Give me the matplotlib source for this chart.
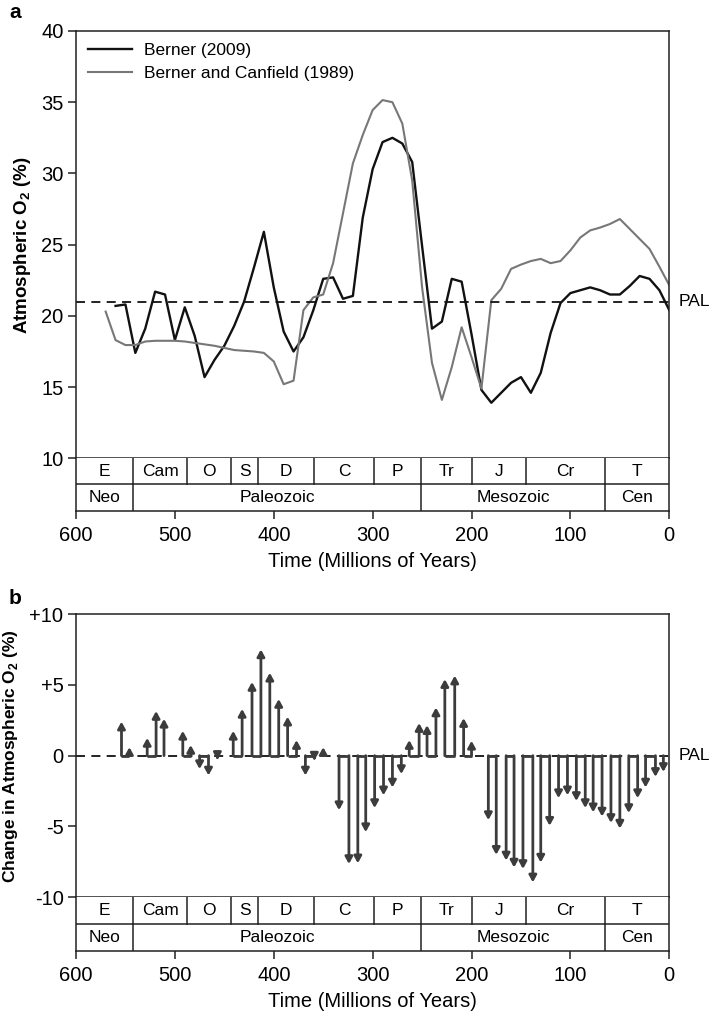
import numpy as np
import matplotlib.pyplot as plt

plt.rcParams['font.family'] = ['Liberation Sans', 'DejaVu Sans']
plt.rcParams['mathtext.fontset'] = 'custom'
plt.rcParams['mathtext.rm'] = 'Liberation Sans'
plt.rcParams['mathtext.bf'] = 'Liberation Sans:bold'

# -----------------------------------------------------------------
# DADOS
# -----------------------------------------------------------------
# Berner (2009)
t_b09 = [560, 550, 540, 530, 520, 510, 500, 490, 480, 470, 460, 450, 440, 430,
         420, 410, 400, 390, 380, 370, 360, 350, 340, 330, 320, 310, 300, 290,
         280, 270, 260, 250, 240, 230, 220, 210, 200, 190, 180, 170, 160, 150,
         140, 130, 120, 110, 100, 90, 80, 70, 60, 50, 40, 30, 20, 10, 0]
o2_b09 = [20.7, 20.8, 17.4, 19.1, 21.7, 21.5, 18.3, 20.6, 18.6, 15.7, 16.9, 17.9,
          19.3, 21.0, 23.4, 25.9, 22.0, 18.9, 17.5, 18.5, 20.4, 22.6, 22.7, 21.2,
          21.4, 26.9, 30.3, 32.2, 32.5, 32.1, 30.8, 24.9, 19.1, 19.6, 22.6, 22.4,
          18.7, 14.8, 13.9, 14.6, 15.3, 15.7, 14.6, 16.0, 18.8, 20.9, 21.6, 21.8,
          22.0, 21.8, 21.5, 21.5, 22.1, 22.8, 22.6, 21.8, 20.4]

# Berner and Canfield (1989)
t_bc89 = [570, 560, 550, 540, 530, 520, 510, 500, 490, 480, 470, 460, 450, 440,
          430, 420, 410, 400, 390, 380, 370, 360, 350, 340, 330, 320, 310, 300,
          290, 280, 270, 260, 250, 240, 230, 220, 210, 200, 190, 180, 170, 160,
          150, 140, 130, 120, 110, 100, 90, 80, 70, 60, 50, 40, 30, 20, 10, 0]
o2_bc89 = [20.3, 18.3, 17.95, 17.95, 18.2, 18.25, 18.25, 18.25, 18.2, 18.1, 18.0,
           17.9, 17.75, 17.6, 17.55, 17.5, 17.4, 16.8, 15.2, 15.45, 20.4, 21.3,
           21.5, 23.7, 27.2, 30.7, 32.7, 34.45, 35.15, 35.0, 33.5, 29.5, 22.0,
           16.7, 14.1, 16.4, 19.2, 17.1, 14.9, 21.1, 21.9, 23.3, 23.6, 23.85,
           24.0, 23.7, 23.85, 24.6, 25.5, 26.0, 26.2, 26.45, 26.8, 26.1, 25.4,
           24.7, 23.45, 22.15]

# variação em relação ao PAL (painel b)
t_diff = [554, 546, 528, 519, 511, 492, 484, 475, 466, 457, 441, 432, 422, 413,
          404, 395, 386, 377, 368, 359, 350, 334, 324, 315, 307, 298, 289, 280,
          271, 263, 253, 245, 236, 227, 217, 208, 200, 183, 175, 165, 157, 148,
          138, 130, 121, 112, 103, 94, 85, 77, 68, 59, 50, 41, 32, 24, 14, 6]
d_o2 = [2.4, 0.6, 1.25, 3.15, 2.6, 1.75, 0.75, -0.95, -1.4, -0.3, 1.75, 3.3, 5.2,
        7.5, 5.85, 4.0, 2.75, 1.1, -1.4, -0.35, 0.6, -3.85, -7.65, -7.6, -5.4,
        -3.7, -2.8, -2.25, -1.3, 1.1, 2.3, 2.15, 3.4, 5.4, 5.65, 2.65, 1.05,
        -4.55, -7.0, -7.4, -7.9, -8.0, -8.95, -7.55, -4.95, -3.0, -2.8, -3.2,
        -3.7, -4.0, -4.3, -4.75, -5.15, -4.05, -3.0, -2.25, -1.5, -1.15]

PAL = 21

period_names = ['E', 'Cam', 'O', 'S', 'D', 'C', 'P', 'Tr', 'J', 'Cr', 'T']
period_edges = [600, 542, 488, 443, 416, 359, 299, 251, 200, 145, 65, 0]
era_names = ['Neo', 'Paleozoic', 'Mesozoic', 'Cen']
era_edges = [600, 542, 251, 65, 0]

cor_eixo = '#222222'
W, H = 710, 1021


def escala_tempo(ax):
    # tabela de períodos / eras abaixo do gráfico
    ax.set_xlim(600, 0)
    ax.set_ylim(0, 2)
    ax.axhline(1, color=cor_eixo, lw=1.1)
    for x in period_edges[1:-1]:
        ax.plot([x, x], [1, 2], color=cor_eixo, lw=1.1)
    for x in era_edges[1:-1]:
        ax.plot([x, x], [0, 1], color=cor_eixo, lw=1.1)
    for i, nome in enumerate(period_names):
        ax.text((period_edges[i] + period_edges[i + 1]) / 2, 1.5, nome,
                ha='center', va='center', fontsize=12.5)
    for i, nome in enumerate(era_names):
        ax.text((era_edges[i] + era_edges[i + 1]) / 2, 0.5, nome,
                ha='center', va='center', fontsize=12.5)
    ax.set_yticks([])
    ax.set_xticks([600, 500, 400, 300, 200, 100, 0])
    ax.tick_params(axis='x', direction='out', length=6, width=1.1,
                   color=cor_eixo, labelsize=14.5, pad=5)
    for s in ax.spines.values():
        s.set_color(cor_eixo)
        s.set_linewidth(1.1)
    ax.spines['top'].set_visible(False)
    ax.set_xlabel('Time (Millions of Years)', fontsize=14.5, labelpad=5)


def estilo_dados(ax):
    ax.set_xlim(600, 0)
    ax.set_xticks([])
    for s in ax.spines.values():
        s.set_color(cor_eixo)
        s.set_linewidth(1.1)
    ax.tick_params(axis='y', direction='out', length=6, width=1.1,
                   color=cor_eixo, labelsize=14.5, pad=3)


fig = plt.figure(figsize=(W / 100, H / 100), dpi=100)

x0, x1 = 76 / W, 669.3 / W


def caixa(ytop, ybot):
    return [x0, 1 - ybot / H, x1 - x0, (ybot - ytop) / H]


# -----------------------------------------------------------------
# PAINEL a
# -----------------------------------------------------------------
ax1 = fig.add_axes(caixa(31, 458.3))
ts1 = fig.add_axes(caixa(458.3, 510.7))
estilo_dados(ax1)
escala_tempo(ts1)

ax1.plot(t_b09, o2_b09, color='#111111', lw=1.7, label='Berner (2009)')
ax1.plot(t_bc89, o2_bc89, color='#777777', lw=1.5,
         label='Berner and Canfield (1989)')
ax1.axhline(PAL, color='#111111', lw=1.3, ls=(0, (5, 3.5)))
ax1.set_ylim(10, 40)
ax1.set_yticks([10, 15, 20, 25, 30, 35, 40])
ax1.text(1.015, PAL, 'PAL', transform=ax1.get_yaxis_transform(),
         va='center', ha='left', fontsize=12.5)
ax1.set_ylabel(r'Atmospheric O$_\mathbf{2}$ (%)', fontsize=13.5,
               fontweight='bold')
ax1.yaxis.set_label_coords(-0.072, 0.5)
ax1.legend(loc='upper left', frameon=False, fontsize=12.5, handlelength=2.5,
           handletextpad=0.7, labelspacing=0.45, borderaxespad=0.3,
           bbox_to_anchor=(0.0, 1.0))

# -----------------------------------------------------------------
# PAINEL b
# -----------------------------------------------------------------
ax2 = fig.add_axes(caixa(614, 897.3))
ts2 = fig.add_axes(caixa(897.3, 950.7))
estilo_dados(ax2)
escala_tempo(ts2)

ax2.axhline(0, color='#111111', lw=1.3, ls=(0, (5, 3.5)), zorder=1)
cor_seta = '#3c3c3c'
for t, d in zip(t_diff, d_o2):
    ax2.annotate('', xy=(t, d), xytext=(t, 0),
                 arrowprops=dict(arrowstyle='-|>,head_length=0.4,head_width=0.22',
                                 lw=2.0, color=cor_seta, shrinkA=0, shrinkB=0),
                 zorder=3)

# ligação na base entre setas vizinhas (pares)
usado = False
for i in range(len(t_diff) - 1):
    if usado:
        usado = False
        continue
    mesmo_sinal = np.sign(d_o2[i]) == np.sign(d_o2[i + 1])
    if mesmo_sinal and abs(t_diff[i] - t_diff[i + 1]) < 12:
        ax2.plot([t_diff[i], t_diff[i + 1]], [0, 0], color=cor_seta, lw=2.0,
                 solid_capstyle='butt', zorder=3)
        usado = True

ax2.set_ylim(-10, 10)
ax2.set_yticks([10, 5, 0, -5, -10])
ax2.set_yticklabels(['+10', '+5', '0', '-5', '-10'])
ax2.text(1.015, 0, 'PAL', transform=ax2.get_yaxis_transform(),
         va='center', ha='left', fontsize=12.5)
ax2.set_ylabel(r'Change in Atmospheric O$_\mathbf{2}$ (%)', fontsize=12.5,
               fontweight='bold')
ax2.yaxis.set_label_coords(-0.094, 0.5)

fig.text(15 / W, 1 - 12 / H, 'a', fontsize=15, fontweight='bold',
         ha='center', va='center')
fig.text(15 / W, 1 - 598 / H, 'b', fontsize=15, fontweight='bold',
         ha='center', va='center')

fig.savefig('out.png', dpi=100)
